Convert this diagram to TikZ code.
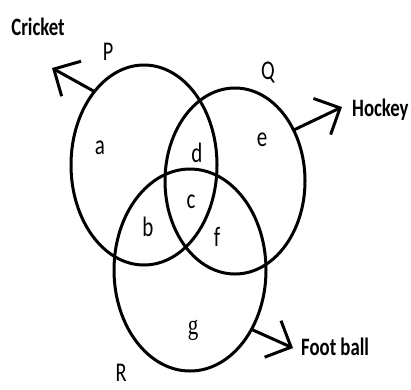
\documentclass[tikz,border=0pt]{standalone}
\usepackage{fontspec}
\setmainfont{Carlito}
\newfontfamily\serifg{Liberation Serif}
\usetikzlibrary{shapes.geometric,arrows.meta}
\newcommand{\sq}[1]{\scalebox{0.75}[1]{#1}}
\begin{document}
\begin{tikzpicture}[x=1pt,y=-1pt,
  setc/.style={ellipse, draw, line width=3pt, inner sep=0pt, outer sep=0pt},
  arr/.style={line width=3pt, -{Straight Barb[length=20pt,width=40pt]}},
  cat/.style={font=\fontsize{25}{25}\selectfont\bfseries, inner sep=0pt},
  lab/.style={font=\fontsize{27}{27}\selectfont, inner sep=0pt},
  reg/.style={font=\fontsize{28}{28}\selectfont, inner sep=0pt}]
\useasboundingbox[fill=white] (0,0) rectangle (411,389);
\node[setc, minimum width=146pt, minimum height=200pt] (P) at (144,165) {};
\node[setc, minimum width=140pt, minimum height=186pt] (Q) at (235,181) {};
\node[setc, minimum width=152pt, minimum height=202pt] (R) at (190,270) {};
\coordinate (ct) at (52,68);
\coordinate (ht) at (342,107);
\coordinate (ft) at (293,348);
\draw[arr] (P.124) -- (ct);
\draw[arr] (Q.41) -- (ht);
\draw[arr] (R.-44) -- (ft);
\node[cat] (cricket) at (38,27) {\sq{Cricket}};
\node[cat, anchor=west] (hockey) at (352,110) {\sq{Hockey}};
\node[cat, anchor=west] (football) at (301,347) {\sq{Foot ball}};
\node[lab] (lp) at (108,52) {\sq{P}};
\node[lab] (lq) at (268,73) {\sq{Q}};
\node[lab] (lr) at (121,373) {\sq{R}};
\node[reg] (a) at (100,148) {\sq{a}};
\node[reg] (b) at (148,227) {\sq{b}};
\node[reg] (c) at (191,202) {\sq{c}};
\node[reg] (d) at (197,153) {\sq{d}};
\node[reg] (e) at (262,140) {\sq{e}};
\node[reg] (f) at (217,237) {\sq{f}};
\node[reg] (g) at (193,330) {\serifg\sq{g}};
\end{tikzpicture}
\end{document}
